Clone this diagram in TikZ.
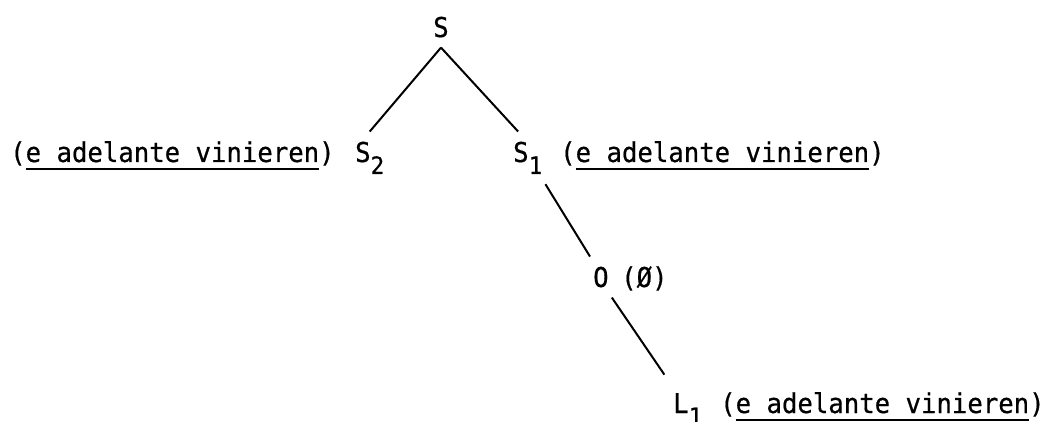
\documentclass[tikz,border=0pt]{standalone}
\usepackage{fontspec}
\usepackage{tikz}
\newfontfamily\tw[FakeStretch=0.94, FakeBold=0.6]{DejaVu Sans Mono}
\newcommand\ulin[1]{\setbox0\hbox{#1}\rlap{\rule[-8pt]{\wd0}{1.8pt}}\box0}
\newcommand\subs[1]{\raisebox{-12pt}{\fontsize{24}{24}\selectfont #1}}

\begin{document}
\begin{tikzpicture}[x=1pt, y=-1pt,
        cat/.style ={font=\tw\fontsize{27.3}{30}\selectfont,
                     inner xsep=3pt, inner ysep=10pt, anchor=base west},
        ann/.style ={font=\tw\fontsize{27.3}{30}\selectfont,
                     inner sep=0pt, anchor=base west},
        br/.style  ={line width=2pt},]

    \useasboundingbox (0,0) rectangle (1053,422);

    \node[cat, anchor=base] (S) at (441, 37) {S};
    \node[cat] (S2) at (352, 162) {S\subs{2}};
    \node[cat] (S1) at (510, 162) {S\subs{1}};
    \node[cat] (O)  at (590, 287) {O};
    \node[cat] (L1) at (670, 413) {L\subs{1}};

    \node[ann] (A) at ( 10, 162) {(\ulin{e adelante vinieren})};
    \node[ann] (B) at (560, 162) {(\ulin{e adelante vinieren})};
    \node[ann] (C) at (621, 287) {(Ø)};
    \node[ann] (D) at (720, 413) {(\ulin{e adelante vinieren})};

    \draw[br] (S.south) -- (S2.north);
    \draw[br] (S.south) -- (S1.110);
    \draw[br] (S1.south east) -- (O.north west);
    \draw[br, shorten >=10pt] (O.south east) -- (L1.north west);
\end{tikzpicture}
\end{document}
